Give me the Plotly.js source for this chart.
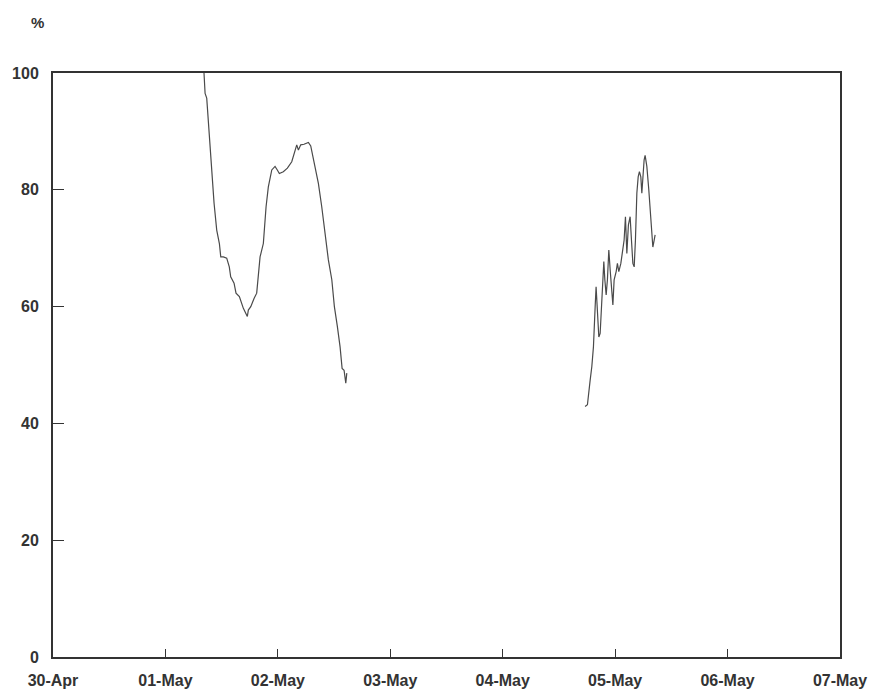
<!DOCTYPE html>
<html>
<head>
<meta charset="utf-8">
<script src="https://cdn.plot.ly/plotly-3.0.1.min.js"></script>
<style>
  html, body { margin: 0; padding: 0; background: #fff; }
  #chart { width: 874px; height: 691px; }
</style>
</head>
<body>
<div id="chart"></div>
<script>
// First run of readings (01-May morning to 02-May afternoon)
const run1Times = [
  '2000-05-01 08:14', '2000-05-01 08:28', '2000-05-01 08:49', '2000-05-01 09:22',
  '2000-05-01 09:53', '2000-05-01 10:23', '2000-05-01 10:57', '2000-05-01 11:31',
  '2000-05-01 11:49', '2000-05-01 12:22', '2000-05-01 13:05', '2000-05-01 13:38',
  '2000-05-01 13:56', '2000-05-01 14:39', '2000-05-01 15:04', '2000-05-01 15:47',
  '2000-05-01 16:38', '2000-05-01 17:29', '2000-05-01 17:42', '2000-05-01 18:13',
  '2000-05-01 18:55', '2000-05-01 19:29', '2000-05-01 20:12', '2000-05-01 20:54',
  '2000-05-01 21:29', '2000-05-01 21:58', '2000-05-01 22:42', '2000-05-01 23:24',
  '2000-05-01 23:53', '2000-05-02 00:19', '2000-05-02 01:10', '2000-05-02 02:02',
  '2000-05-02 02:58', '2000-05-02 03:40', '2000-05-02 04:02', '2000-05-02 04:23',
  '2000-05-02 04:53', '2000-05-02 05:35', '2000-05-02 06:31', '2000-05-02 07:01',
  '2000-05-02 07:56', '2000-05-02 08:39', '2000-05-02 09:22', '2000-05-02 10:05',
  '2000-05-02 10:47', '2000-05-02 11:31', '2000-05-02 12:04', '2000-05-02 12:42',
  '2000-05-02 13:17', '2000-05-02 13:43', '2000-05-02 14:08', '2000-05-02 14:30',
  '2000-05-02 14:43'
];
const run1Values = [
  100.0, 96.5, 95.7, 89.1,
  83.4, 77.7, 73.1, 70.8,
  68.5, 68.5, 68.3, 66.8,
  65.1, 64.0, 62.3, 61.7,
  59.7, 58.3, 59.4, 60.0,
  61.4, 62.3, 68.5, 70.8,
  77.1, 80.5, 83.4, 84.0,
  83.4, 82.8, 83.1, 83.7,
  84.8, 86.8, 87.7, 86.8,
  87.7, 87.8, 88.1, 87.5,
  84.2, 81.1, 77.1, 72.6,
  68.0, 64.6, 60.0, 56.6,
  53.1, 49.4, 49.1, 46.9,
  48.6
];

// Second run of readings (04-May evening to 05-May morning)
const run2Times = [
  '2000-05-04 17:35', '2000-05-04 18:05', '2000-05-04 18:40', '2000-05-04 19:01',
  '2000-05-04 19:22', '2000-05-04 19:31', '2000-05-04 19:44', '2000-05-04 19:56',
  '2000-05-04 20:13', '2000-05-04 20:31', '2000-05-04 20:48', '2000-05-04 21:04',
  '2000-05-04 21:22', '2000-05-04 21:35', '2000-05-04 21:48', '2000-05-04 22:05',
  '2000-05-04 22:21', '2000-05-04 22:39', '2000-05-04 22:56', '2000-05-04 23:17',
  '2000-05-04 23:31', '2000-05-04 23:47', '2000-05-05 00:13', '2000-05-05 00:29',
  '2000-05-05 00:47', '2000-05-05 01:13', '2000-05-05 01:38', '2000-05-05 01:55',
  '2000-05-05 02:12', '2000-05-05 02:30', '2000-05-05 02:50', '2000-05-05 03:12',
  '2000-05-05 03:29', '2000-05-05 03:47', '2000-05-05 04:04', '2000-05-05 04:20',
  '2000-05-05 04:38', '2000-05-05 04:55', '2000-05-05 05:11', '2000-05-05 05:29',
  '2000-05-05 05:42', '2000-05-05 05:55', '2000-05-05 06:11', '2000-05-05 06:24',
  '2000-05-05 06:46', '2000-05-05 07:11', '2000-05-05 07:28', '2000-05-05 07:45',
  '2000-05-05 08:03', '2000-05-05 08:20', '2000-05-05 08:32'
];
const run2Values = [
  42.9, 43.2, 47.4, 49.7,
  53.1, 57.1, 60.0, 63.4,
  60.0, 54.8, 55.4, 59.4,
  63.4, 67.7, 64.6, 62.0,
  64.6, 69.7, 66.3, 62.3,
  60.3, 64.6, 66.0, 67.4,
  66.0, 67.4, 69.4, 71.4,
  75.4, 69.1, 74.0, 75.4,
  71.4, 67.4, 66.8, 71.4,
  79.4, 82.2, 83.1, 82.2,
  79.4, 82.8, 85.1, 85.9,
  84.0, 80.0, 77.1, 73.7,
  70.2, 71.4, 72.3
];

// Axis ticks
const xTickVals = ['2000-04-30', '2000-05-01', '2000-05-02', '2000-05-03',
                   '2000-05-04', '2000-05-05', '2000-05-06', '2000-05-07'];
const xTickText = ['30-Apr', '01-May', '02-May', '03-May',
                   '04-May', '05-May', '06-May', '07-May'];
const yTickVals = [0, 20, 40, 60, 80, 100];

const lineStyle = { color: '#4a4a4a', width: 1.2 };

const traces = [
  { x: run1Times, y: run1Values, type: 'scatter', mode: 'lines', line: lineStyle, hoverinfo: 'skip' },
  { x: run2Times, y: run2Values, type: 'scatter', mode: 'lines', line: lineStyle, hoverinfo: 'skip' }
];

const fontFamily = '"Liberation Sans", Arial, sans-serif';
const tickFont = { family: fontFamily, size: 16, color: '#333', weight: 'bold' };

const layout = {
  width: 874,
  height: 691,
  margin: { l: 53, r: 34, t: 73, b: 34 },
  paper_bgcolor: '#fff',
  plot_bgcolor: '#fff',
  showlegend: false,
  font: { family: fontFamily, size: 16, color: '#333' },
  xaxis: {
    type: 'date',
    range: ['2000-04-30', '2000-05-07'],
    tickmode: 'array',
    tickvals: xTickVals,
    ticktext: xTickText,
    ticks: 'inside',
    ticklen: 8,
    tickwidth: 1,
    tickcolor: '#333',
    showgrid: false,
    zeroline: false,
    showline: true,
    mirror: true,
    linecolor: '#333',
    linewidth: 2,
    tickfont: tickFont,
    ticklabelstandoff: 8
  },
  yaxis: {
    range: [0, 100],
    tickmode: 'array',
    tickvals: yTickVals,
    ticks: 'inside',
    ticklen: 11,
    tickwidth: 1,
    tickcolor: '#333',
    showgrid: false,
    zeroline: false,
    showline: true,
    mirror: true,
    linecolor: '#333',
    linewidth: 2,
    tickfont: tickFont,
    ticklabelstandoff: 9
  },
  annotations: [
    {
      text: '%',
      xref: 'paper', yref: 'paper',
      x: -0.0203, y: 1.087,
      xanchor: 'center', yanchor: 'middle',
      showarrow: false,
      font: { family: fontFamily, size: 15, color: '#333', weight: 'bold' }
    }
  ]
};

Plotly.newPlot('chart', traces, layout, { displayModeBar: false, staticPlot: true });
</script>
</body>
</html>
